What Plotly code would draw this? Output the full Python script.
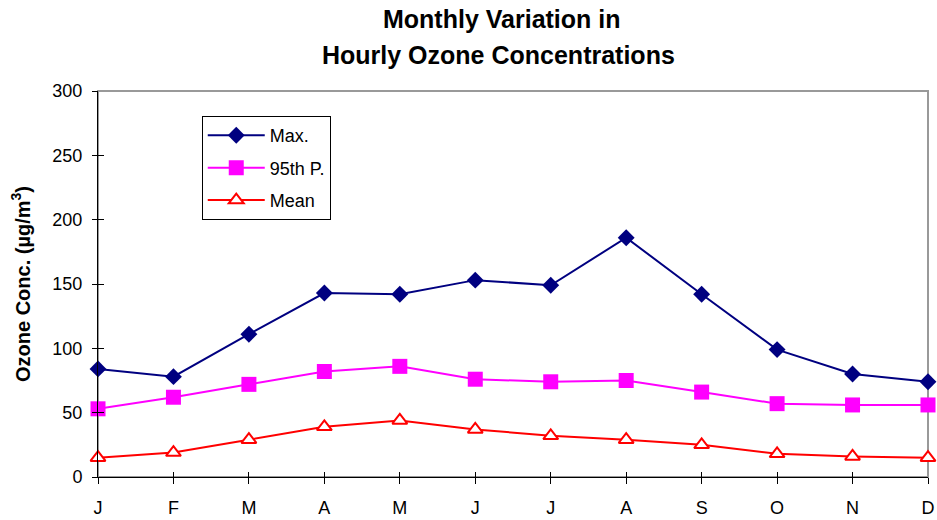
import plotly.graph_objects as go

months = ["J", "F", "M", "A", "M", "J", "J", "A", "S", "O", "N", "D"]
x_idx = list(range(12))
max_vals = [84, 78, 111, 143, 142, 153, 149, 186, 142, 99, 80, 74]
p95_vals = [53, 62, 72, 82, 86, 76, 74, 75, 66, 57, 56, 56]
mean_vals = [15, 19, 29, 39, 44, 37, 32, 29, 25, 18, 16, 15]
y_ticks = [0, 50, 100, 150, 200, 250, 300]
title_lines = ["Monthly Variation in", "Hourly Ozone Concentrations"]

fig = go.Figure()
fig.add_trace(go.Scatter(x=x_idx, y=max_vals, name="Max.", mode="lines+markers",
                         legendgroup="a",
                         line=dict(color="#000080", width=2),
                         marker=dict(symbol="diamond", size=13, color="#000080"),
                         cliponaxis=False))
fig.add_trace(go.Scatter(x=x_idx, y=p95_vals, name="95th P.", mode="lines+markers",
                         legendgroup="b",
                         line=dict(color="#FF00FF", width=2),
                         marker=dict(symbol="square", size=15, color="#FF00FF"),
                         cliponaxis=False))
fig.add_trace(go.Scatter(x=x_idx, y=mean_vals, name="Mean", mode="lines+markers",
                         legendgroup="c",
                         line=dict(color="#FF0000", width=2),
                         marker=dict(symbol="triangle-up", size=13, color="white",
                                     line=dict(color="#FF0000", width=2)),
                         cliponaxis=False))
# invisible trace so the overlay tick axes render
fig.add_trace(go.Scatter(x=[0], y=[0], xaxis="x2", yaxis="y2", mode="markers",
                         marker=dict(opacity=0), showlegend=False, hoverinfo="skip"))

font = dict(family="Arial, Liberation Sans, sans-serif", color="black")

fig.update_layout(
    width=937, height=520,
    paper_bgcolor="white", plot_bgcolor="white",
    margin=dict(l=98, r=9, t=91, b=43, autoexpand=False),
    font=dict(**font, size=18),
    showlegend=True,
    legend=dict(x=0.125, y=0.935, xanchor="left", yanchor="top",
                bordercolor="black", borderwidth=1, bgcolor="white",
                font=dict(**font, size=18), tracegroupgap=6,
                traceorder="grouped", itemwidth=57),
    xaxis=dict(range=[0, 11], tickmode="array", tickvals=x_idx, ticktext=months,
               showgrid=False, zeroline=False, showline=True, linecolor="black",
               linewidth=1, ticks="outside", ticklen=6, tickcolor="black",
               ticklabelstandoff=8,
               tickfont=dict(**font, size=18), fixedrange=True),
    yaxis=dict(range=[0, 300], tickmode="array", tickvals=y_ticks,
               showgrid=False, zeroline=False, showline=True, linecolor="black",
               linewidth=1, ticks="outside", ticklen=5, tickcolor="black",
               ticklabelstandoff=6,
               tickfont=dict(**font, size=18),
               title=dict(text="<b>Ozone Conc. (µg/m<sup>3</sup>)</b>",
                          font=dict(**font, size=20), standoff=16)),
    xaxis2=dict(range=[0, 11], overlaying="x", tickmode="array", tickvals=x_idx,
                showticklabels=False, ticks="inside", ticklen=5, tickcolor="black",
                showgrid=False, zeroline=False, showline=False, side="bottom"),
    yaxis2=dict(range=[0, 300], overlaying="y", tickmode="array", tickvals=y_ticks,
                showticklabels=False, ticks="inside", ticklen=6, tickcolor="black",
                showgrid=False, zeroline=False, showline=False, side="left"),
    shapes=[dict(type="rect", xref="paper", yref="paper", x0=0, x1=1, y0=0, y1=1,
                 line=dict(color="#999999", width=2), layer="below")],
    annotations=[
        dict(text="<b>" + title_lines[0] + "</b>", xref="paper", yref="paper",
             x=0.487, y=1.186, xanchor="center", yanchor="middle", showarrow=False,
             font=dict(**font, size=25)),
        dict(text="<b>" + title_lines[1] + "</b>", xref="paper", yref="paper",
             x=0.483, y=1.093, xanchor="center", yanchor="middle", showarrow=False,
             font=dict(**font, size=25)),
    ],
)

fig.write_html("out.html", config={"displayModeBar": False},
               post_script="document.body.style.margin='0';")
